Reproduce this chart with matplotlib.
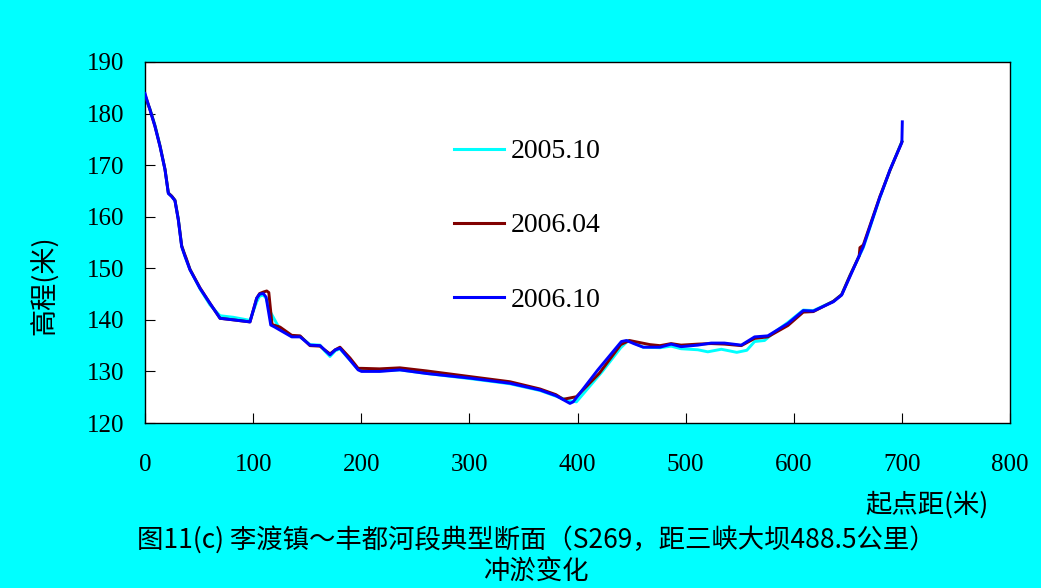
import matplotlib
matplotlib.use("Agg")
import matplotlib.pyplot as plt

# 起点距 (m) と 高程 (m) : 3時期の断面
x_2005_10 = [0, 4.6, 9.2, 13.9, 18.5, 21.6, 24.7, 27.7, 30.8, 33.9, 37, 41.6, 50.9, 60.1,
             69.4, 81.7, 97.1, 103.3, 106, 109.5, 112, 116, 121.8, 124.9, 135.7, 143.4,
             152.6, 161.9, 166, 171.1, 176, 180.3, 189.6, 197.1, 200.3, 217, 235.7, 260.4,
             300.6, 337.6, 365.3, 380, 393, 399, 423, 440, 447, 460.8, 476.3, 486.6, 495.8,
             511.3, 520.5, 533, 547.3, 556.6, 563.8, 573, 582, 594.6, 608.8, 618.1, 636.6,
             644.3, 652, 664.3, 679.8, 689, 700]
y_2005_10 = [183.0, 180.9, 177.8, 173.8, 169.2, 164.6, 164.0, 163.2, 159.6, 154.4, 152.4,
             149.8, 146.0, 142.9, 140.8, 140.5, 139.9, 143.5, 144.6, 144.8, 144.2, 141.5,
             139.3, 138.2, 136.8, 136.8, 135.2, 135.1, 134.0, 132.9, 134.0, 134.4, 132.2,
             130.4, 130.2, 130.1, 130.3, 129.6, 128.6, 127.6, 126.3, 125.2, 124.3, 124.1,
             130.0, 134.6, 136.0, 134.7, 134.6, 134.9, 134.4, 134.2, 133.8, 134.3, 133.7,
             134.1, 135.8, 136.0, 137.6, 139.5, 141.9, 141.8, 143.6, 144.9, 148.6, 154.0,
             163.8, 169.0, 174.6]

x_2006_04 = [0, 4.6, 9.2, 13.9, 18.5, 21.6, 24.7, 27.7, 30.8, 33.9, 36, 38, 41.6, 50.9,
             60.1, 69.4, 81.7, 97.1, 103.3, 106, 109.5, 112.6, 114.5, 117.5, 124.9, 135.7,
             143.4, 152.6, 161.9, 166, 171.1, 176, 180.3, 189.6, 197.1, 200.3, 217, 235.7,
             260.4, 300.6, 337.6, 365.3, 380, 386.8, 399, 420, 440, 448, 467, 476.3, 486.6,
             495.8, 511.3, 523.6, 535.9, 551.5, 563.8, 576, 594.6, 608.8, 618.1, 636.6,
             644.3, 652, 660.5, 661.2, 664.3, 679.8, 689, 700]
y_2006_04 = [183.6, 180.8, 177.6, 173.7, 169.2, 164.6, 164.0, 163.2, 159.5, 154.4, 153.1,
             152.0, 149.8, 146.2, 143.2, 140.3, 140.0, 139.6, 144.2, 145.1, 145.4, 145.6,
             145.3, 139.1, 138.6, 137.0, 136.9, 135.0, 134.9, 134.2, 133.4, 134.2, 134.7,
             132.6, 130.6, 130.6, 130.5, 130.7, 130.1, 129.0, 128.0, 126.6, 125.5, 124.6,
             125.1, 129.6, 135.2, 136.0, 135.2, 135.0, 135.4, 135.1, 135.3, 135.4, 135.3,
             135.0, 136.4, 136.7, 138.9, 141.5, 141.6, 143.6, 144.9, 148.6, 152.4, 154.0,
             154.5, 164.0, 169.0, 174.5]

x_2006_10 = [0, 4.6, 9.2, 13.9, 18.5, 21.6, 24.7, 27.7, 30.8, 33.9, 37, 41.6, 50.9, 60.1,
             69.4, 81.7, 97.1, 103.3, 106, 109.5, 112, 116.3, 120, 124.9, 135.7, 143.4,
             152.6, 161.9, 166, 171.1, 176, 180.3, 189.6, 197.1, 200.3, 217, 235.7, 260.4,
             300.6, 337.6, 365.3, 380, 393, 396, 418.8, 440.6, 445.3, 452, 460.8, 476.3,
             486.6, 495.8, 511.3, 523.6, 535.9, 551.5, 563.8, 576, 594.6, 608.8, 618.1,
             636.6, 644.3, 652, 664.3, 679.8, 681, 689, 700, 700.4]
y_2006_10 = [183.9, 180.7, 177.5, 173.6, 169.1, 164.5, 163.9, 163.1, 159.4, 154.2, 152.3,
             149.7, 146.1, 143.2, 140.3, 140.0, 139.6, 144.2, 145.0, 145.1, 144.4, 139.0,
             138.6, 138.0, 136.7, 136.7, 135.1, 135.0, 134.2, 133.2, 134.2, 134.5, 132.2,
             130.3, 130.0, 130.0, 130.3, 129.6, 128.7, 127.7, 126.4, 125.3, 123.8, 124.1,
             130.3, 135.8, 136.0, 135.4, 134.7, 134.7, 135.3, 134.8, 135.1, 135.5, 135.5,
             135.1, 136.7, 136.9, 139.3, 141.8, 141.7, 143.5, 144.8, 148.4, 154.2, 163.9,
             164.5, 169.1, 174.4, 178.4]

series_labels = ["2005.10", "2006.04", "2006.10"]
x_ticks = [0, 100, 200, 300, 400, 500, 600, 700, 800]
y_ticks = [120, 130, 140, 150, 160, 170, 180, 190]

caption_1 = "图11(c) 李渡镇～丰都河段典型断面（S269，距三峡大坝488.5公里）"
caption_2 = "冲淤变化"

BG = "#00FFFF"
CJK = ["Noto Sans CJK SC", "DejaVu Sans"]
SERIF = "Liberation Serif"

fig = plt.figure(figsize=(10.41, 5.88), dpi=100, facecolor=BG)
ax = fig.add_axes([145 / 1041, 1 - 423 / 588, 865 / 1041, 361 / 588])
ax.set_facecolor("white")

# 線の重なり順: 2005.10 -> 2006.04 -> 2006.10
ax.plot(x_2005_10, y_2005_10, color="#00FFFF", lw=2.1, label=series_labels[0], zorder=2)
ax.plot(x_2006_04, y_2006_04, color="#800000", lw=2.1, label=series_labels[1], zorder=3)
ax.plot(x_2006_10, y_2006_10, color="#0000FF", lw=2.1, label=series_labels[2], zorder=4)

ax.set_xlim(0, 800)
ax.set_ylim(120, 190)
ax.set_xticks(x_ticks)
ax.set_yticks(y_ticks)
ax.tick_params(axis="x", direction="in", length=7, pad=22, labelsize=18)
ax.tick_params(axis="y", direction="in", length=7, pad=15, labelsize=18)
for lab in ax.get_xticklabels() + ax.get_yticklabels():
    lab.set_fontfamily(SERIF)
for sp in ax.spines.values():
    sp.set_color("black")
    sp.set_linewidth(1.0)

leg = ax.legend(loc="upper left", bbox_to_anchor=(454 / 1041, 1 - 139 / 588),
                bbox_transform=fig.transFigure, frameon=False,
                prop={"family": SERIF, "size": 20}, handlelength=1.8,
                handletextpad=0.25, labelspacing=1.75, borderpad=0, borderaxespad=0)
for line in leg.get_lines():
    line.set_linewidth(2.2)

# 軸ラベルとキャプション
fig.text(45 / 1041, 1 - 285 / 588, "高程(米)", rotation=90, ha="center", va="center",
         fontsize=19.5, family=CJK)
fig.text(927 / 1041, 1 - 505 / 588, "起点距(米)", ha="center", va="center",
         fontsize=19, family=CJK)
fig.text(536 / 1041, 1 - 540 / 588, caption_1, ha="center", va="center",
         fontsize=19, family=CJK)
fig.text(536 / 1041, 1 - 572 / 588, caption_2, ha="center", va="center",
         fontsize=19, family=CJK)

fig.savefig("out.png", dpi=100, facecolor=BG)
